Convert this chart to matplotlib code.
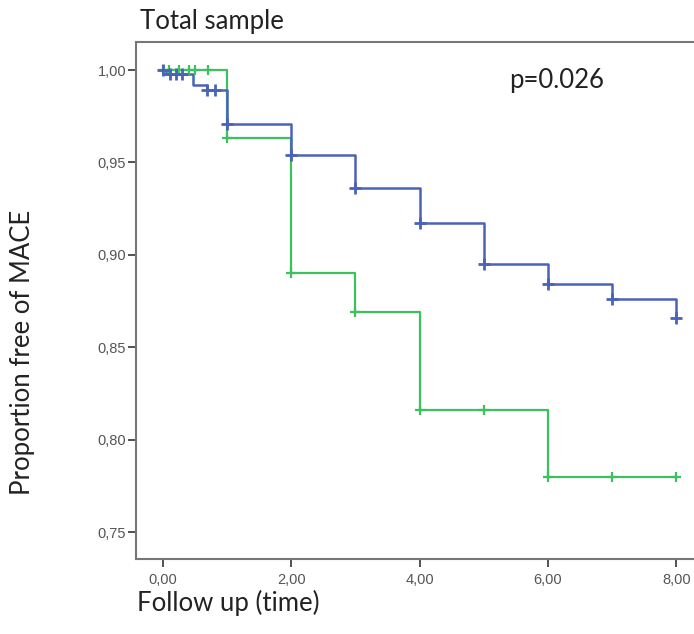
#Kaplan-Meier style plot, total sample

import matplotlib
matplotlib.use('Agg')
import matplotlib.pyplot as plt
from matplotlib.ticker import FuncFormatter

# blue group: step times and survival after each step
blue_t = [0, 0.05, 0.47, 0.69, 1.0, 2.0, 3.0, 4.0, 5.0, 6.0, 7.0, 8.0]
blue_s = [1.0, 0.998, 0.992, 0.989, 0.971, 0.954, 0.936, 0.917, 0.895, 0.884, 0.876, 0.866]
# censored marks (blue)
blue_cx = [0.0, 0.11, 0.2, 0.3, 0.69, 0.81, 1.0, 2.0, 3.0, 4.0, 5.0, 6.0, 7.0, 8.0]
blue_cy = [1.0, 0.998, 0.998, 0.998, 0.989, 0.989, 0.971, 0.954, 0.936, 0.917, 0.895, 0.884, 0.876, 0.866]

# green group
green_t = [0, 1.0, 2.0, 3.0, 4.0, 6.0, 8.0]
green_s = [1.0, 0.963, 0.890, 0.869, 0.816, 0.780, 0.780]
green_cx = [0.0, 0.09, 0.25, 0.41, 0.5, 0.7, 1.0, 2.0, 3.0, 4.0, 5.0, 6.0, 7.0, 8.0]
green_cy = [1.0, 1.0, 1.0, 1.0, 1.0, 1.0, 0.963, 0.890, 0.869, 0.816, 0.816, 0.780, 0.780, 0.780]

blue = '#4a62b8'
green = '#3cc15e'
label_font = dict(fontsize=18.5, fontfamily='Lato', color='#222222')

def plot():
    fig = plt.figure(figsize=(6.94, 6.34), dpi=100)
    ax = fig.add_axes([136/694, 1 - 559/634, (700-136)/694, (559-42)/634])

    ax.step(green_t, green_s, where='post', color=green, lw=1.6)
    ax.step(blue_t, blue_s, where='post', color=blue, lw=1.8)
    ax.scatter(green_cx, green_cy, marker='+', s=60, color=green, linewidths=1.6, zorder=3)
    ax.scatter(blue_cx, blue_cy, marker='+', s=70, color=blue, linewidths=2, zorder=4)

    ax.set_xlim(-0.42, 8.37)
    ax.set_ylim(0.7354, 1.0152)
    ax.set_xticks([0, 2, 4, 6, 8])
    ax.set_yticks([0.75, 0.80, 0.85, 0.90, 0.95, 1.00])
    fmt = FuncFormatter(lambda v, p: ('%.2f' % v).replace('.', ','))
    ax.xaxis.set_major_formatter(fmt)
    ax.yaxis.set_major_formatter(fmt)
    ax.tick_params(direction='out', length=6, width=1.3, color='#444444',
                   labelsize=10.5, labelcolor='#555555')
    ax.tick_params(axis='y', pad=1)
    ax.tick_params(axis='x', pad=4)
    for lab in ax.get_xticklabels() + ax.get_yticklabels():
        lab.set_fontfamily('Liberation Sans')

    for side in ['top', 'bottom', 'left', 'right']:
        ax.spines[side].set_color('#777777')
        ax.spines[side].set_linewidth(1.5)

    ax.text(5.4, 0.9905, 'p=0.026', **label_font)

    fig.text(140/694, 1 - 22/634, 'Total sample', va='center', ha='left', **label_font)
    fig.text(23/694, 1 - 352/634, 'Proportion free of MACE', rotation=90,
             va='center', ha='center', **label_font)
    fig.text(137/694, 1 - 603/634, 'Follow up (time)', va='center', ha='left', **label_font)

    fig.savefig('out.png', dpi=100)

plot()
